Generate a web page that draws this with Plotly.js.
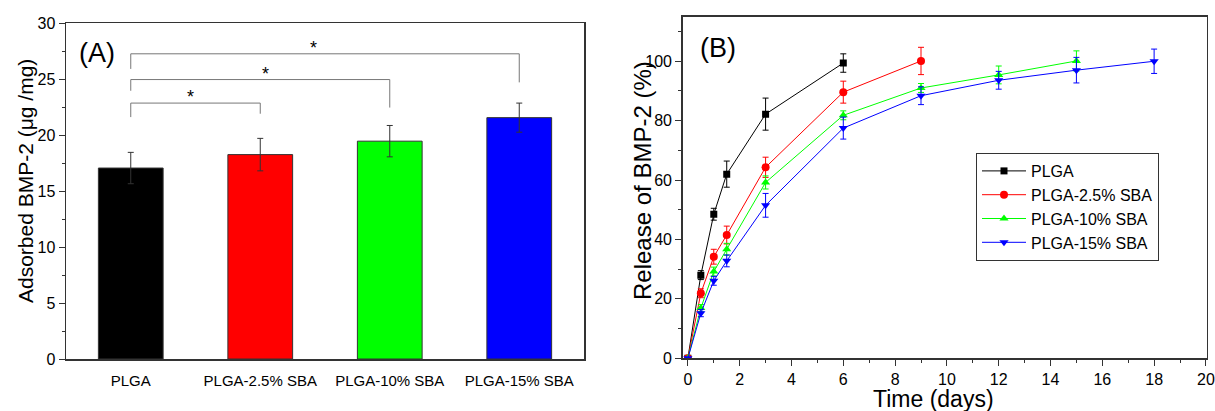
<!DOCTYPE html>
<html>
<head>
<meta charset="utf-8">
<script src="https://cdn.plot.ly/plotly-3.0.1.min.js"></script>
<style>html,body{margin:0;padding:0;background:#fff}#chart{width:1215px;height:411px}</style>
</head>
<body>
<div id="chart"></div>
<script>
// ---- Panel A data ----
const categories = ["PLGA", "PLGA-2.5% SBA", "PLGA-10% SBA", "PLGA-15% SBA"];
const adsorbed = [17.05, 18.25, 19.45, 21.55];
const adsorbedErr = [1.4, 1.45, 1.4, 1.3];
const barColors = ["#000000", "#ff0000", "#00ff00", "#0000ff"];
// significance brackets: [fromIndex, toIndex, level, leftLegEnd, rightLegEnd]
const brackets = [
  [0, 1, 22.85, 21.6, 21.9],
  [0, 2, 24.95, 23.95, 22.45],
  [0, 3, 27.25, 25.9, 24.7]
];
const starX = [0.46, 1.04, 1.41];

// ---- Panel B data ----
const seriesNames = ["PLGA", "PLGA-2.5% SBA", "PLGA-10% SBA", "PLGA-15% SBA"];
const seriesColors = ["#000000", "#ff0000", "#00ff00", "#0000ff"];
const seriesSymbols = ["square", "circle", "triangle-up", "triangle-down"];
const timePLGA = [0, 0.5, 1, 1.5, 3, 6];
const relPLGA = [0, 28.0, 48.5, 62.0, 82.2, 99.4];
const errPLGA = [0, 1.5, 2.0, 4.4, 5.4, 3.1];
const time25 = [0, 0.5, 1, 1.5, 3, 6, 9];
const rel25 = [0, 21.9, 34.2, 41.5, 64.3, 89.6, 100.1];
const err25 = [0, 1.5, 2.5, 3.0, 3.4, 3.7, 4.6];
const time10 = [0, 0.5, 1, 1.5, 3, 6, 9, 12, 15];
const rel10 = [0, 16.9, 29.2, 36.7, 59.2, 81.8, 91.0, 95.4, 100.1];
const err10 = [0, 1.2, 1.5, 2.0, 2.2, 1.5, 1.5, 3.0, 3.4];
const time15 = [0, 0.5, 1, 1.5, 3, 6, 9, 12, 15, 18];
const rel15 = [0, 15.2, 26.1, 32.8, 51.5, 77.5, 88.4, 93.6, 97.0, 100.0];
const err15 = [0, 1.2, 1.5, 2.0, 4.0, 3.7, 3.0, 3.0, 4.3, 4.1];

const FONT = "Liberation Sans, Arial, sans-serif";
const times = [timePLGA, time25, time10, time15];
const rels = [relPLGA, rel25, rel10, rel15];
const errs = [errPLGA, err25, err10, err15];

const traces = [{
  type: "bar", x: categories, y: adsorbed, xaxis: "x", yaxis: "y",
  width: 0.5, showlegend: false,
  marker: {color: barColors, line: {color: "#333", width: 1}},
  error_y: {type: "data", array: adsorbedErr, visible: true, color: "#333", thickness: 1, width: 3}
}];
for (let i = 0; i < 4; i++) {
  traces.push({
    type: "scatter", mode: "lines+markers", name: seriesNames[i],
    x: times[i], y: rels[i], xaxis: "x2", yaxis: "y2",
    line: {color: seriesColors[i], width: 1},
    marker: {color: seriesColors[i], symbol: seriesSymbols[i], size: i === 0 ? 7 : 8},
    error_y: {type: "data", array: errs[i], visible: true, color: seriesColors[i], thickness: 1, width: 3}
  });
}

const shapes = [];
const annotations = [];
const bcol = "#777";
brackets.forEach((b, k) => {
  shapes.push({type: "line", xref: "x", yref: "y", x0: b[0], x1: b[1], y0: b[2], y1: b[2], line: {color: bcol, width: 1}});
  shapes.push({type: "line", xref: "x", yref: "y", x0: b[0], x1: b[0], y0: b[2], y1: b[3], line: {color: bcol, width: 1}});
  shapes.push({type: "line", xref: "x", yref: "y", x0: b[1], x1: b[1], y0: b[2], y1: b[4], line: {color: bcol, width: 1}});
  annotations.push({xref: "x", yref: "y", x: starX[k], y: b[2], text: "*", showarrow: false,
    yanchor: "bottom", yshift: -6, font: {family: FONT, size: 18, color: "#000"}});
});
annotations.push({xref: "paper", yref: "paper", x: 97/1215, y: 1 - 53/411, text: "(A)", showarrow: false,
  xanchor: "center", yanchor: "middle", font: {family: FONT, size: 27, color: "#000"}});
annotations.push({xref: "paper", yref: "paper", x: 718/1215, y: 1 - 48/411, text: "(B)", showarrow: false,
  xanchor: "center", yanchor: "middle", font: {family: FONT, size: 27, color: "#000"}});
annotations.push({xref: "paper", yref: "paper", x: 25/1215, y: 1 - 181/411, text: "Adsorbed BMP-2 (μg /mg)", textangle: -90,
  showarrow: false, xanchor: "center", yanchor: "middle", font: {family: FONT, size: 21, color: "#000"}});
annotations.push({xref: "paper", yref: "paper", x: 642/1215, y: 1 - 180/411, text: "Release of BMP-2 (%)", textangle: -90,
  showarrow: false, xanchor: "center", yanchor: "middle", font: {family: FONT, size: 24, color: "#000"}});
annotations.push({xref: "paper", yref: "paper", x: 933/1215, y: 1 - 399/411, text: "Time (days)",
  showarrow: false, xanchor: "center", yanchor: "middle", font: {family: FONT, size: 23, color: "#000"}});

const axisCommon = {showgrid: false, zeroline: false, showline: true, linecolor: "#333", linewidth: 1.5, mirror: true,
  tickfont: {family: FONT, size: 15, color: "#000"}, tickcolor: "#333"};

const layout = {
  width: 1215, height: 411,
  margin: {l: 0, r: 0, t: 0, b: 0},
  paper_bgcolor: "#fff", plot_bgcolor: "#fff",
  font: {family: FONT, color: "#000"},
  xaxis: Object.assign({}, axisCommon, {domain: [66/1215, 584/1215], anchor: "y", type: "category",
    range: [-0.5, 3.5], ticks: "", ticklabelstandoff: 7, tickfont: {family: FONT, size: 15, color: "#000"}}),
  yaxis: Object.assign({}, axisCommon, {domain: [52/411, 388/411], anchor: "x", range: [0, 30], dtick: 5,
    ticks: "outside", ticklen: 6, tickwidth: 1, tickfont: {family: FONT, size: 16, color: "#000"},
    minor: {ticks: "outside", dtick: 2.5, ticklen: 3, tickcolor: "#333"}}),
  xaxis2: Object.assign({}, axisCommon, {domain: [682.7/1215, 1206.7/1215], anchor: "y2", range: [-0.2, 20.03],
    tickvals: [0, 2, 4, 6, 8, 10, 12, 14, 16, 18, 20],
    ticks: "outside", ticklen: 6, tickwidth: 1, tickfont: {family: FONT, size: 16, color: "#000"},
    minor: {ticks: "outside", dtick: 1, ticklen: 3, tickcolor: "#333"}}),
  yaxis2: Object.assign({}, axisCommon, {domain: [52.7/411, 394.3/411], anchor: "x2", range: [0, 115], dtick: 20,
    ticks: "outside", ticklen: 6, tickwidth: 1, tickfont: {family: FONT, size: 16, color: "#000"},
    minor: {ticks: "outside", dtick: 10, ticklen: 3, tickcolor: "#333"}}),
  showlegend: true,
  legend: {x: 976/1215, y: 1 - 153/411, xanchor: "left", yanchor: "top",
    bgcolor: "#fff", bordercolor: "#333", borderwidth: 1,
    font: {family: FONT, size: 16, color: "#000"}, tracegroupgap: 0, itemwidth: 44},
  shapes: shapes,
  annotations: annotations
};

Plotly.newPlot("chart", traces, layout, {displayModeBar: false, staticPlot: true});
</script>
</body>
</html>
